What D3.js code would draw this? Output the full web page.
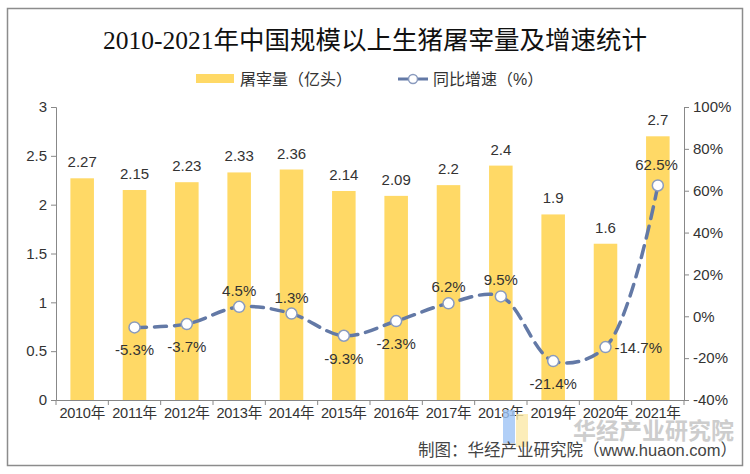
<!DOCTYPE html>
<html><head><meta charset="utf-8">
<script src="https://cdn.jsdelivr.net/npm/d3@7"></script>
<style>body{margin:0;background:#fff;}svg{display:block;}</style>
</head><body><svg id="c" width="750" height="474"></svg>
<script>
const categories = ["2010年","2011年","2012年","2013年","2014年","2015年","2016年","2017年","2018年","2019年","2020年","2021年"];
const slaughter = [2.27,2.15,2.23,2.33,2.36,2.14,2.09,2.2,2.4,1.9,1.6,2.7];
const slaughterLabels = ["2.27","2.15","2.23","2.33","2.36","2.14","2.09","2.2","2.4","1.9","1.6","2.7"];
const growth = [null,-5.3,-3.7,4.5,1.3,-9.3,-2.3,6.2,9.5,-21.4,-14.7,62.5];
const leftTicks = [0,0.5,1,1.5,2,2.5,3];
const rightTicks = [-40,-20,0,20,40,60,80,100];
const labelPos = [null,"below","below","above","above","below","below","above","above","below","right","aboveleft"];

const svg = d3.select("#c");
const font = "Arial, 'Liberation Sans', 'Noto Sans CJK SC', sans-serif";
svg.append("rect").attr("x",7.5).attr("y",8.5).attr("width",735).attr("height",457)
  .attr("fill","#fff").attr("stroke","#8c8c8c").attr("stroke-width",1.5);

const L = 56, R = 684, T = 107, B = 400;
const x = d3.scaleBand().domain(categories).range([L,R]).paddingInner(0.55).paddingOuter(0.275);
const xb = d3.scaleBand().domain(categories).range([L,R]);
const y = d3.scaleLinear().domain([0,3]).range([B,T]);
const y2 = d3.scaleLinear().domain([-40,100]).range([B,T]);

// title
svg.append("text").attr("x",375).attr("y",49).attr("text-anchor","middle")
  .attr("font-family","'Liberation Serif','DejaVu Serif','Noto Sans CJK SC',serif")
  .attr("font-size",25.5).attr("fill","#111").text("2010-2021年中国规模以上生猪屠宰量及增速统计");

// legend
const lg = svg.append("g").attr("font-family",font);
lg.append("rect").attr("x",196).attr("y",74).attr("width",38).attr("height",9).attr("fill","#FFD966");
lg.append("text").attr("x",240).attr("y",85).attr("font-size",16).attr("fill","#333").text("屠宰量（亿头）");
lg.append("line").attr("x1",398).attr("x2",428).attr("y1",79).attr("y2",79).attr("stroke","#6379A6").attr("stroke-width",3);
lg.append("circle").attr("cx",413).attr("cy",79).attr("r",4.5).attr("fill","#fff").attr("stroke","#8A9BBE").attr("stroke-width",1.5);
lg.append("text").attr("x",433).attr("y",85).attr("font-size",16).attr("fill","#333").text("同比增速（%）");

// bars
svg.append("g").selectAll("rect").data(slaughter).join("rect")
  .attr("x",(d,i)=>x(categories[i])).attr("width",x.bandwidth())
  .attr("y",d=>y(d)).attr("height",d=>B-y(d)).attr("fill","#FFD966");

// axes
const axL = svg.append("g").attr("transform",`translate(${L},0)`)
  .call(d3.axisLeft(y).tickValues(leftTicks).tickFormat(d=>String(d)).tickSizeOuter(0).tickSize(5));
const axR = svg.append("g").attr("transform",`translate(${R},0)`)
  .call(d3.axisRight(y2).tickValues(rightTicks).tickFormat(d=>d+"%").tickSizeOuter(0).tickSize(5));
const axB = svg.append("g").attr("transform",`translate(0,${B})`)
  .call(d3.axisBottom(xb).tickSize(0).tickSizeOuter(0));
axB.selectAll("text").attr("dy","1.05em");
// category separators
svg.append("g").selectAll("line").data(d3.range(categories.length+1)).join("line")
  .attr("x1",i=>L+i*xb.step()).attr("x2",i=>L+i*xb.step()).attr("y1",B).attr("y2",B+5)
  .attr("stroke","#888");
[axL,axR,axB].forEach(a=>{
  a.selectAll("path,line").attr("stroke","#888");
  a.selectAll("text").attr("font-family",font).attr("font-size",15).attr("fill","#333");
});
axL.selectAll("text").attr("x",-9);
axR.selectAll("text").attr("x",9);
axB.selectAll("text").attr("font-size",14.6).attr("letter-spacing","-0.3");

// bar labels
svg.append("g").selectAll("text").data(slaughter).join("text")
  .attr("x",(d,i)=>x(categories[i])+x.bandwidth()/2).attr("y",d=>y(d)-11)
  .attr("text-anchor","middle").attr("font-family",font).attr("font-size",15).attr("fill","#333")
  .text((d,i)=>slaughterLabels[i]);

// line
const pts = growth.map((v,i)=>({v,i})).filter(d=>d.v!==null);
const cx = d=>xb(categories[d.i])+xb.bandwidth()/2;
svg.append("path").datum(pts)
  .attr("d",d3.line().x(cx).y(d=>y2(d.v)).curve(d3.curveCatmullRom.alpha(0.5)))
  .attr("fill","none").attr("stroke","#6379A6").attr("stroke-width",3.5)
  .attr("stroke-dasharray","12,8").attr("stroke-linecap","round");
svg.append("g").selectAll("circle").data(pts).join("circle")
  .attr("cx",cx).attr("cy",d=>y2(d.v)).attr("r",5.5)
  .attr("fill","#fff").attr("stroke","#8A9BBE").attr("stroke-width",1.5);
svg.append("g").selectAll("text").data(pts).join("text")
  .attr("font-family",font).attr("font-size",15).attr("fill","#333")
  .attr("text-anchor",d=>labelPos[d.i]==="right"?"start":(labelPos[d.i]==="aboveleft"?"end":"middle"))
  .attr("x",d=>{const p=labelPos[d.i];return p==="right"?cx(d)+9:(p==="aboveleft"?cx(d)+20:cx(d));})
  .attr("y",d=>{const p=labelPos[d.i];const yy=y2(d.v);
    if(p==="below")return yy+28; if(p==="right")return yy+6; if(p==="aboveleft")return yy-15; return yy-11;})
  .text(d=>d.v+"%");

// watermark & source
svg.append("rect").attr("x",503).attr("y",410).attr("width",12).attr("height",33).attr("fill","#9DC3F5").attr("opacity",0.8);
svg.append("rect").attr("x",516).attr("y",414).attr("width",12).attr("height",33).attr("fill","#FBE9A8").attr("opacity",0.8);
svg.append("text").attr("x",734).attr("y",439).attr("text-anchor","end")
  .attr("font-family","'Noto Sans CJK SC',sans-serif").attr("font-weight","bold").attr("font-size",23)
  .attr("fill","#b8b8b8").attr("opacity",0.7).text("华经产业研究院");
svg.append("text").attr("x",737).attr("y",456).attr("text-anchor","end")
  .attr("font-family",font).attr("font-size",16.5).attr("fill","#444")
  .text("制图：华经产业研究院（www.huaon.com）");
</script></body></html>
